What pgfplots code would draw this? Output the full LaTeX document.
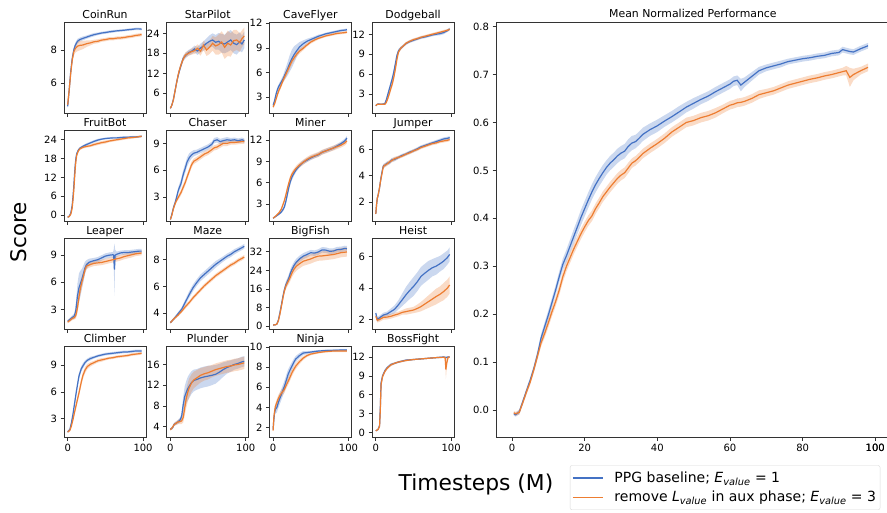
\documentclass[border=0pt]{standalone}
\usepackage{fontspec}
\setmainfont{DejaVu Sans}
\usepackage{pgfplots}
\usepackage{pgfplotstable}
\pgfplotsset{compat=1.18}
\usepgfplotslibrary{fillbetween}
\definecolor{cb}{HTML}{4472C4}
\definecolor{co}{HTML}{ED7D31}

\pgfplotstableread{
x b be o oe
0 4.6 0.1 4.7 0.1
2 5.6 0.15 5.6 0.15
4 6.7 0.15 6.6 0.2
6 7.5 0.15 7.4 0.2
8 8.0 0.15 7.9 0.25
10 8.3 0.15 8.1 0.25
13 8.55 0.15 8.25 0.3
16 8.65 0.12 8.3 0.3
20 8.72 0.12 8.32 0.25
25 8.8 0.1 8.4 0.2
30 8.88 0.1 8.45 0.15
35 8.95 0.1 8.52 0.12
40 9.0 0.08 8.55 0.12
45 9.05 0.08 8.62 0.1
50 9.08 0.08 8.65 0.1
55 9.12 0.08 8.7 0.1
60 9.15 0.08 8.7 0.1
65 9.18 0.07 8.74 0.1
70 9.2 0.07 8.75 0.1
75 9.22 0.07 8.78 0.1
80 9.25 0.07 8.82 0.1
85 9.27 0.07 8.85 0.1
90 9.3 0.07 8.9 0.1
95 9.3 0.07 8.93 0.1
98 9.28 0.07 8.95 0.1
}\tCoin

\pgfplotstableread{
x b be o oe
0 1.5 0.3 1.5 0.3
2 2.5 0.4 2.5 0.4
4 4.2 0.5 4.0 0.5
6 6.5 0.6 6.5 0.6
8 9.0 0.7 8.8 0.7
10 11.0 0.8 11.2 0.8
12 12.8 0.8 13.0 0.8
14 14.3 0.8 14.5 0.8
17 16.5 0.8 16.3 0.8
20 17.3 0.8 17.5 0.8
24 18.2 0.8 18.0 0.8
28 18.6 0.9 18.5 0.9
32 19.3 1.0 18.8 1.0
36 18.7 1.2 19.5 1.2
40 19.6 1.3 18.6 1.3
44 20.2 1.4 20.4 1.4
48 21.0 1.5 19.0 1.8
52 21.6 1.8 19.8 2.0
56 22.0 2.0 21.0 2.2
60 21.3 2.2 20.2 2.6
64 21.6 2.5 20.6 3.0
68 21.0 2.8 21.4 3.2
72 20.8 2.8 19.8 3.5
76 21.4 3.0 21.0 3.8
80 22.0 3.0 20.5 3.5
84 21.0 3.0 21.8 3.2
88 20.6 3.0 22.0 3.0
92 21.5 2.8 21.2 2.8
95 20.8 2.5 22.4 2.5
98 22.0 2.5 23.2 2.5
}\tStar

\pgfplotstableread{
x b be o oe
0 2.0 0.15 1.8 0.15
2 2.6 0.2 2.2 0.2
4 3.4 0.25 2.8 0.25
6 4.0 0.3 3.4 0.3
8 4.4 0.3 3.9 0.3
10 4.7 0.35 4.3 0.3
13 5.2 0.4 5.0 0.3
16 5.8 0.6 5.6 0.35
19 6.4 0.8 6.2 0.4
22 7.1 1.0 6.8 0.4
25 7.7 1.1 7.4 0.4
28 8.2 1.0 7.8 0.35
31 8.6 0.8 8.2 0.3
35 9.1 0.6 8.6 0.3
40 9.5 0.4 8.95 0.25
45 9.8 0.3 9.35 0.2
50 10.0 0.25 9.7 0.2
55 10.2 0.2 9.95 0.2
60 10.4 0.2 10.15 0.15
65 10.55 0.15 10.3 0.15
70 10.7 0.15 10.45 0.15
75 10.8 0.15 10.55 0.15
80 10.9 0.15 10.65 0.15
85 11.0 0.15 10.75 0.15
90 11.1 0.15 10.8 0.15
95 11.15 0.15 10.85 0.15
98 11.2 0.15 10.9 0.15
}\tCave

\pgfplotstableread{
x b be o oe
0 1.3 0.1 1.3 0.1
2 1.5 0.1 1.5 0.1
4 1.55 0.1 1.5 0.1
6 1.5 0.1 1.5 0.1
8 1.5 0.1 1.5 0.1
10 1.55 0.1 1.5 0.1
12 1.6 0.15 1.5 0.1
14 2.2 0.2 1.8 0.2
16 3.0 0.3 2.4 0.3
18 3.8 0.35 3.1 0.35
20 4.6 0.4 3.9 0.4
22 5.4 0.4 4.6 0.45
24 6.4 0.4 5.6 0.5
26 7.6 0.4 6.8 0.5
28 8.8 0.35 8.2 0.4
30 9.5 0.3 9.3 0.3
33 9.9 0.25 9.9 0.25
36 10.2 0.2 10.2 0.2
40 10.6 0.2 10.65 0.2
45 10.9 0.2 10.95 0.2
50 11.1 0.2 11.2 0.2
55 11.3 0.2 11.35 0.2
60 11.5 0.2 11.55 0.2
65 11.6 0.2 11.7 0.2
70 11.75 0.2 11.85 0.2
75 11.9 0.2 12.0 0.2
80 12.0 0.2 12.15 0.2
85 12.1 0.25 12.3 0.2
90 12.25 0.25 12.45 0.2
95 12.55 0.2 12.6 0.2
98 12.8 0.2 12.75 0.2
}\tDodge

\pgfplotstableread{
x b be o oe
0 -0.6 0.2 -0.6 0.2
2 -0.3 0.2 -0.4 0.2
4 0.6 0.3 0.3 0.3
5 1.8 0.4 1.2 0.4
6 3.2 0.5 2.4 0.5
7 5.8 0.6 4.8 0.6
8 8.8 0.7 7.6 0.7
9 12.6 0.7 11.2 0.7
10 16.0 0.6 14.8 0.7
11 18.2 0.5 17.4 0.6
12 19.5 0.5 19.0 0.5
14 20.6 0.4 20.3 0.4
16 21.2 0.4 21.0 0.4
20 21.8 0.4 21.5 0.4
25 22.4 0.4 21.8 0.4
30 22.9 0.4 22.0 0.4
35 23.4 0.4 22.4 0.5
40 23.8 0.4 22.7 0.5
45 24.1 0.3 23.0 0.5
50 24.3 0.3 23.2 0.5
55 24.4 0.3 23.5 0.4
60 24.5 0.3 23.7 0.4
65 24.5 0.3 23.9 0.4
70 24.6 0.3 24.1 0.4
75 24.7 0.3 24.3 0.4
80 24.7 0.3 24.5 0.4
85 24.8 0.3 24.6 0.4
90 24.8 0.3 24.7 0.3
95 24.9 0.3 24.9 0.3
98 25.0 0.3 25.0 0.3
}\tFruit

\pgfplotstableread{
x b be o oe
0 0.5 0.1 0.5 0.1
2 1.1 0.15 1.0 0.15
4 1.8 0.2 1.7 0.2
6 2.3 0.25 2.2 0.2
8 2.9 0.3 2.6 0.2
10 3.6 0.35 2.9 0.25
12 4.1 0.4 3.2 0.3
14 4.5 0.45 3.5 0.3
16 5.2 0.5 3.9 0.35
18 5.8 0.5 4.3 0.35
20 6.3 0.5 4.7 0.35
22 6.9 0.5 5.2 0.35
25 7.4 0.5 5.9 0.35
28 7.7 0.4 6.6 0.35
31 7.9 0.35 7.0 0.3
35 8.0 0.3 7.2 0.3
40 8.2 0.3 7.5 0.3
45 8.4 0.3 7.8 0.3
50 8.6 0.3 8.0 0.3
55 8.9 0.3 8.3 0.3
58 9.3 0.3 8.5 0.3
62 9.4 0.3 8.6 0.3
66 9.2 0.3 8.8 0.3
70 9.3 0.3 9.0 0.3
75 9.4 0.3 9.0 0.3
80 9.35 0.25 9.1 0.25
85 9.4 0.25 9.1 0.25
90 9.3 0.25 9.15 0.25
95 9.4 0.25 9.2 0.25
98 9.3 0.25 9.2 0.25
}\tChaser

\pgfplotstableread{
x b be o oe
0 1.0 0.1 1.0 0.1
4 1.3 0.1 1.35 0.1
8 1.6 0.15 1.8 0.15
11 1.9 0.2 2.3 0.2
13 2.2 0.25 2.9 0.25
15 2.6 0.3 3.5 0.3
17 3.4 0.35 4.3 0.35
19 4.4 0.4 5.2 0.4
21 5.4 0.4 6.0 0.4
23 6.2 0.4 6.7 0.4
25 6.8 0.4 7.2 0.4
28 7.4 0.35 7.7 0.35
31 7.9 0.3 8.1 0.35
35 8.4 0.3 8.5 0.35
40 8.9 0.3 8.9 0.35
45 9.2 0.3 9.3 0.35
50 9.5 0.3 9.6 0.35
55 9.75 0.3 9.8 0.35
60 9.95 0.3 10.0 0.35
65 10.3 0.3 10.3 0.35
70 10.5 0.3 10.5 0.35
75 10.7 0.3 10.7 0.35
80 10.9 0.3 10.9 0.35
85 11.2 0.3 11.1 0.35
90 11.5 0.3 11.3 0.35
95 11.9 0.3 11.6 0.35
98 12.3 0.3 11.9 0.35
}\tMiner

\pgfplotstableread{
x b be o oe
0 1.1 0.1 1.1 0.1
1 1.8 0.15 1.8 0.15
2 2.3 0.15 2.3 0.15
3 2.5 0.15 2.5 0.15
4 2.8 0.15 2.8 0.15
5 3.1 0.15 3.1 0.15
6 3.5 0.15 3.5 0.15
7 3.9 0.15 3.8 0.15
8 4.2 0.15 4.1 0.15
9 4.5 0.15 4.4 0.15
10 4.75 0.15 4.7 0.15
12 4.8 0.15 4.8 0.15
15 4.95 0.15 4.9 0.15
18 5.0 0.15 5.05 0.15
21 5.2 0.15 5.15 0.15
25 5.25 0.15 5.3 0.15
30 5.4 0.12 5.4 0.12
35 5.55 0.12 5.5 0.12
40 5.65 0.12 5.65 0.12
45 5.8 0.12 5.75 0.12
50 5.9 0.12 5.9 0.12
55 6.05 0.12 6.0 0.12
60 6.2 0.12 6.15 0.12
65 6.3 0.12 6.25 0.12
70 6.4 0.12 6.35 0.12
75 6.5 0.12 6.45 0.12
80 6.6 0.12 6.5 0.12
85 6.7 0.12 6.6 0.12
90 6.8 0.12 6.65 0.12
95 6.85 0.12 6.7 0.12
98 6.9 0.12 6.75 0.12
}\tJumper

\pgfplotstableread{
x b be o oe
0 1.7 0.15 1.6 0.15
3 1.9 0.2 1.8 0.2
6 2.1 0.25 2.0 0.2
9 2.3 0.3 2.1 0.2
11 3.0 0.8 2.4 0.4
13 4.5 1.4 3.2 0.6
15 5.4 1.6 4.4 0.7
17 5.9 1.4 5.4 0.7
19 6.4 1.1 6.1 0.6
21 7.0 0.9 6.7 0.5
23 7.6 0.7 7.4 0.4
25 7.95 0.5 7.8 0.35
28 8.2 0.4 7.9 0.3
31 8.3 0.35 8.0 0.3
35 8.4 0.3 8.1 0.3
40 8.5 0.3 8.15 0.3
45 8.7 0.3 8.2 0.3
50 8.9 0.3 8.3 0.3
55 9.0 0.3 8.4 0.3
60 9.05 0.3 8.5 0.3
61 9.0 0.6 8.5 0.3
62 7.4 2.9 8.55 0.3
63 9.0 0.6 8.55 0.3
65 9.1 0.3 8.6 0.3
70 9.25 0.25 8.7 0.3
75 9.3 0.25 8.85 0.3
80 9.3 0.25 8.95 0.3
85 9.35 0.25 9.05 0.3
90 9.4 0.25 9.15 0.25
95 9.45 0.25 9.2 0.25
98 9.45 0.25 9.25 0.25
}\tLeaper

\pgfplotstableread{
x b be o oe
0 3.3 0.08 3.3 0.08
5 3.6 0.1 3.6 0.1
10 3.95 0.12 3.85 0.1
15 4.3 0.15 4.15 0.12
20 4.85 0.2 4.5 0.15
25 5.4 0.25 4.8 0.15
30 5.9 0.25 5.15 0.15
35 6.3 0.25 5.45 0.15
40 6.65 0.25 5.75 0.15
45 6.9 0.25 6.05 0.15
50 7.15 0.25 6.3 0.15
55 7.4 0.25 6.55 0.15
60 7.65 0.25 6.8 0.15
65 7.85 0.22 7.0 0.15
70 8.05 0.2 7.2 0.15
75 8.25 0.2 7.4 0.15
80 8.4 0.2 7.6 0.15
85 8.6 0.2 7.75 0.15
90 8.75 0.18 7.95 0.15
95 8.9 0.18 8.1 0.15
98 9.0 0.18 8.2 0.15
}\tMaze

\pgfplotstableread{
x b be o oe
0 0.4 0.2 0.4 0.2
3 0.5 0.2 0.5 0.2
5 0.8 0.3 0.8 0.3
7 2.5 0.5 2.2 0.5
9 5.6 0.8 5.0 0.8
11 9.0 1.0 8.4 1.0
13 12.6 1.2 12.0 1.2
15 15.6 1.3 15.2 1.3
17 17.8 1.4 17.2 1.4
19 19.2 1.5 18.6 1.5
21 20.8 1.6 19.8 1.6
23 22.8 1.7 21.2 1.7
25 24.3 1.7 22.8 1.8
28 26.2 1.6 24.6 1.9
31 27.6 1.5 25.8 2.0
35 28.9 1.4 26.8 2.0
40 30.1 1.3 27.9 2.0
45 30.8 1.3 28.4 2.0
50 31.6 1.2 28.9 2.0
55 31.4 1.2 29.6 2.0
60 31.9 1.2 30.1 2.0
65 32.8 1.2 30.2 2.0
70 32.7 1.2 30.4 2.0
75 32.2 1.2 30.6 2.0
80 32.3 1.2 30.8 2.0
85 32.9 1.2 31.2 2.0
90 33.0 1.2 31.6 2.0
95 33.4 1.2 31.8 2.0
98 33.3 1.2 31.9 2.0
}\tBigFish

\pgfplotstableread{
x b be o oe
0 2.4 0.15 2.2 0.15
2 2.0 0.15 1.95 0.15
5 2.1 0.15 2.0 0.15
10 2.28 0.15 2.13 0.15
15 2.35 0.15 2.15 0.15
20 2.5 0.2 2.2 0.15
25 2.65 0.25 2.28 0.15
30 2.93 0.3 2.35 0.15
35 3.25 0.4 2.45 0.15
40 3.57 0.5 2.5 0.2
45 3.85 0.55 2.55 0.2
50 4.1 0.6 2.6 0.2
55 4.4 0.6 2.7 0.25
60 4.75 0.6 2.82 0.3
65 4.95 0.6 2.98 0.35
70 5.14 0.6 3.14 0.4
75 5.3 0.55 3.3 0.45
80 5.4 0.55 3.46 0.5
85 5.55 0.5 3.6 0.5
90 5.72 0.5 3.78 0.55
95 5.95 0.45 4.0 0.55
98 6.15 0.45 4.2 0.55
}\tHeist

\pgfplotstableread{
x b be o oe
0 1.5 0.1 1.5 0.1
3 1.8 0.15 1.7 0.15
5 2.55 0.2 2.2 0.2
7 3.5 0.3 2.9 0.25
10 5.2 0.35 4.05 0.3
12 6.3 0.4 4.8 0.35
15 7.8 0.35 5.9 0.4
18 8.6 0.3 7.1 0.4
20 8.9 0.3 7.8 0.4
23 9.3 0.25 8.45 0.35
26 9.55 0.2 8.85 0.3
30 9.75 0.2 9.1 0.25
35 9.9 0.15 9.3 0.2
40 10.05 0.15 9.5 0.2
45 10.15 0.15 9.6 0.2
50 10.25 0.15 9.7 0.15
55 10.3 0.15 9.8 0.15
60 10.35 0.15 9.85 0.15
65 10.4 0.15 9.95 0.15
70 10.45 0.15 10.0 0.15
75 10.5 0.15 10.05 0.15
80 10.5 0.15 10.1 0.15
85 10.55 0.15 10.2 0.15
90 10.6 0.15 10.25 0.15
95 10.6 0.15 10.3 0.15
98 10.6 0.15 10.35 0.15
}\tClimber

\pgfplotstableread{
x b be o oe
0 3.5 0.2 3.4 0.2
3 3.8 0.3 3.9 0.3
5 4.45 0.3 4.4 0.3
8 4.7 0.35 4.7 0.35
10 4.9 0.4 4.9 0.4
13 5.3 0.5 5.0 0.5
15 6.05 0.8 5.1 0.6
17 8.2 1.5 5.8 1.0
19 9.8 2.0 7.6 1.5
21 10.6 2.2 9.4 1.8
23 11.3 2.3 10.6 1.8
25 11.8 2.3 11.5 1.8
28 12.5 2.2 12.4 1.7
31 12.9 2.1 13.0 1.6
35 13.1 2.0 13.4 1.5
40 13.4 2.0 13.9 1.4
45 13.6 2.0 14.2 1.3
50 13.75 2.0 14.4 1.3
55 13.9 1.9 14.7 1.2
60 14.1 1.8 15.0 1.2
65 14.5 1.6 15.2 1.2
70 15.0 1.4 15.4 1.2
75 15.4 1.2 15.6 1.2
80 15.7 1.1 15.7 1.2
85 16.0 1.0 15.9 1.2
90 16.2 1.0 16.0 1.2
95 16.5 1.0 16.2 1.2
98 16.6 1.0 16.3 1.2
}\tPlunder

\pgfplotstableread{
x b be o oe
0 1.8 0.1 1.7 0.1
1 2.8 0.2 3.0 0.2
2 3.5 0.3 3.6 0.3
3 3.8 0.4 4.1 0.3
5 4.0 0.5 4.5 0.35
7 4.5 0.55 4.9 0.35
10 5.1 0.55 5.3 0.35
13 5.7 0.55 5.6 0.35
15 6.1 0.55 5.8 0.35
18 6.8 0.55 6.3 0.35
20 7.3 0.5 6.6 0.35
23 7.8 0.45 7.1 0.35
25 8.1 0.4 7.45 0.35
28 8.55 0.35 7.85 0.3
30 8.8 0.3 8.1 0.3
35 9.15 0.25 8.55 0.25
40 9.4 0.2 8.9 0.2
45 9.45 0.15 9.15 0.15
50 9.5 0.12 9.3 0.12
60 9.6 0.1 9.45 0.1
70 9.65 0.1 9.55 0.1
80 9.67 0.1 9.6 0.1
90 9.7 0.1 9.6 0.1
98 9.7 0.1 9.6 0.1
}\tNinja

\pgfplotstableread{
x b be o oe
0 0.27 0.05 0.27 0.05
3 0.5 0.1 0.5 0.1
5 1.1 0.2 1.0 0.2
6 4.0 0.4 3.6 0.4
7 7.9 0.4 7.6 0.4
9 9.0 0.3 8.9 0.3
12 9.8 0.25 9.7 0.25
15 10.3 0.2 10.2 0.2
20 10.8 0.2 10.75 0.2
25 11.0 0.15 11.0 0.15
30 11.2 0.15 11.2 0.15
40 11.5 0.15 11.45 0.15
50 11.6 0.1 11.6 0.1
60 11.7 0.1 11.7 0.1
70 11.8 0.1 11.8 0.1
80 11.9 0.1 11.9 0.1
90 12.0 0.1 11.95 0.1
92 11.95 0.1 11.9 0.3
93 11.9 0.1 10.0 1.5
94 11.95 0.1 11.0 1.0
96 12.0 0.1 11.95 0.2
98 12.0 0.1 12.0 0.1
}\tBoss

\pgfplotstableread{
x b be o oe
0.5 -0.008 0.004 -0.006 0.004
1 -0.010 0.004 -0.008 0.004
2 -0.004 0.005 -0.005 0.005
3 0.018 0.005 0.016 0.005
4 0.040 0.006 0.038 0.006
5 0.062 0.006 0.058 0.006
6 0.086 0.007 0.084 0.007
7 0.115 0.008 0.112 0.008
8 0.150 0.008 0.140 0.008
9 0.174 0.009 0.160 0.009
10 0.198 0.010 0.182 0.010
11 0.224 0.010 0.205 0.010
12 0.250 0.010 0.226 0.010
13 0.278 0.011 0.250 0.011
14 0.304 0.012 0.278 0.011
15 0.322 0.013 0.300 0.011
16 0.342 0.014 0.318 0.011
17 0.362 0.015 0.336 0.011
18 0.382 0.015 0.352 0.011
19 0.402 0.016 0.368 0.011
20 0.420 0.016 0.382 0.011
21 0.438 0.016 0.395 0.011
22 0.455 0.016 0.405 0.011
23 0.470 0.016 0.420 0.011
24 0.483 0.016 0.432 0.011
25 0.495 0.016 0.445 0.011
26 0.506 0.015 0.455 0.011
27 0.515 0.015 0.465 0.011
28 0.522 0.015 0.474 0.011
29 0.530 0.015 0.483 0.011
30 0.536 0.015 0.490 0.011
31 0.540 0.015 0.495 0.011
32 0.550 0.015 0.505 0.011
33 0.557 0.015 0.515 0.010
34 0.560 0.014 0.520 0.010
35 0.567 0.014 0.527 0.010
36 0.575 0.014 0.535 0.010
38 0.585 0.013 0.546 0.010
40 0.593 0.013 0.556 0.010
42 0.603 0.012 0.567 0.010
44 0.612 0.012 0.580 0.010
46 0.622 0.012 0.590 0.010
48 0.632 0.011 0.600 0.010
50 0.640 0.011 0.604 0.010
52 0.648 0.010 0.610 0.010
54 0.655 0.010 0.614 0.010
56 0.664 0.010 0.620 0.010
58 0.672 0.010 0.628 0.009
60 0.680 0.010 0.636 0.009
61 0.686 0.010 0.638 0.009
62 0.688 0.010 0.641 0.009
63 0.678 0.013 0.642 0.009
64 0.684 0.010 0.644 0.009
66 0.696 0.009 0.650 0.009
68 0.708 0.008 0.658 0.009
70 0.714 0.007 0.662 0.008
72 0.718 0.007 0.666 0.008
74 0.722 0.007 0.672 0.008
76 0.727 0.006 0.678 0.008
78 0.730 0.006 0.682 0.008
80 0.733 0.006 0.686 0.008
82 0.735 0.006 0.690 0.008
84 0.738 0.006 0.693 0.008
86 0.740 0.006 0.697 0.008
88 0.744 0.006 0.700 0.008
90 0.746 0.006 0.704 0.008
91 0.752 0.006 0.706 0.008
92 0.750 0.006 0.708 0.010
93 0.748 0.006 0.694 0.020
94 0.747 0.006 0.700 0.012
96 0.754 0.006 0.708 0.008
98 0.760 0.006 0.715 0.008
}\tMean

\pgfplotsset{
 base/.style={scale only axis, tick align=outside, xtick pos=bottom, ytick pos=left,
   major tick length=3.5pt, tick style={black!80, line width=0.6pt},
   axis line style={black!80, line width=0.8pt},
   ticklabel style={font=\fontsize{10}{12}\selectfont},
   /pgf/number format/assume math mode=true, scaled ticks=false,
   title style={font=\fontsize{10.9}{13}\selectfont, at={(0.5,1)}, anchor=base, yshift=-2.2pt}},
 small/.style={base, width=82pt, height=91pt, xmin=-4.9, xmax=103.9, xtick={0,100}},
}

\newcommand{\smallplot}[8]{%
\begin{axis}[small, at={(#1pt,#2pt)}, anchor=south west, title={#3}, ymin=#4, ymax=#5, ytick={#6}, #8]
\addplot[name path=bu, draw=none, forget plot] table[x=x, y expr=\thisrow{b}+\thisrow{be}] {#7};
\addplot[name path=bl, draw=none, forget plot] table[x=x, y expr=\thisrow{b}-\thisrow{be}] {#7};
\addplot[fill=cb, fill opacity=0.28, draw=none, forget plot] fill between[of=bu and bl];
\addplot[cb, line width=1.2pt, forget plot] table[x=x, y=b] {#7};
\addplot[name path=ou, draw=none, forget plot] table[x=x, y expr=\thisrow{o}+\thisrow{oe}] {#7};
\addplot[name path=ol, draw=none, forget plot] table[x=x, y expr=\thisrow{o}-\thisrow{oe}] {#7};
\addplot[fill=co, fill opacity=0.28, draw=none, forget plot] fill between[of=ou and ol];
\addplot[co, line width=1.2pt, forget plot] table[x=x, y=o] {#7};
\end{axis}}

\begin{document}
\begin{tikzpicture}

\smallplot{64}{398.7}{CoinRun}{4.18}{9.7}{6,8}{\tCoin}{xticklabels={}}
\smallplot{166.7}{398.7}{StarPilot}{0}{27.3}{6,12,18,24}{\tStar}{xticklabels={}}
\smallplot{269.4}{398.7}{CaveFlyer}{1.05}{12.1}{3,6,9,12}{\tCave}{xticklabels={}}
\smallplot{372.1}{398.7}{Dodgeball}{0.15}{13.8}{3,6,9,12}{\tDodge}{xticklabels={}}

\smallplot{64}{290.7}{FruitBot}{-1.9}{26.9}{0,6,12,18,24}{\tFruit}{xticklabels={}}
\smallplot{166.7}{290.7}{Chaser}{0.3}{10.46}{3,6,9}{\tChaser}{xticklabels={}}
\smallplot{269.4}{290.7}{Miner}{0.57}{13.4}{3,6,9,12}{\tMiner}{xticklabels={}}
\smallplot{372.1}{290.7}{Jumper}{0.54}{7.46}{2,4,6}{\tJumper}{xticklabels={}}

\smallplot{64}{182.7}{Leaper}{0.8}{10.87}{3,6,9}{\tLeaper}{xticklabels={}}
\smallplot{166.7}{182.7}{Maze}{2.8}{9.6}{4,6,8}{\tMaze}{xticklabels={}}
\smallplot{269.4}{182.7}{BigFish}{-1.45}{37.8}{0,8,16,24,32}{\tBigFish}{xticklabels={}}
\smallplot{372.1}{182.7}{Heist}{1.37}{7.18}{2,4,6}{\tHeist}{xticklabels={}}

\smallplot{64}{74.7}{Climber}{0.9}{11.13}{3,6,9}{\tClimber}{}
\smallplot{166.7}{74.7}{Plunder}{1.94}{19.5}{4,8,12,16}{\tPlunder}{}
\smallplot{269.4}{74.7}{Ninja}{1.04}{10.07}{2,4,6,8,10}{\tNinja}{}
\smallplot{372.1}{74.7}{BossFight}{-0.75}{13.7}{0,3,6,9,12}{\tBoss}{}

\node[rotate=90, anchor=base, font=\fontsize{21.5}{24}\selectfont] at (27pt,280pt) {Score};
\node[anchor=base, font=\fontsize{21.8}{24}\selectfont] at (476pt,22pt) {Timesteps (M)};

\begin{axis}[base, at={(496pt,74.7pt)}, anchor=south west, width=393.8pt, height=415pt,
  xmin=-4.4, xmax=104, ymin=-0.057, ymax=0.809, hide obscured x ticks=false,
  xtick={0,20,40,60,80,100},
  ytick={0,0.1,0.2,0.3,0.4,0.5,0.6,0.7,0.8},
  yticklabel style={/pgf/number format/.cd, fixed, fixed zerofill, precision=1},
  title={Mean Normalized Performance}, title style={yshift=0.8pt},
  legend style={at={(0.1876,-0.0675)}, anchor=north west, draw=black!15, rounded corners=2pt,
    font=\fontsize{14}{17}\selectfont, row sep=3pt, inner xsep=2pt, inner ysep=4.5pt},
  legend cell align=left,
  extra description/.code={\node[anchor=north, inner sep=0.3333em, yshift=-3.5pt,
    font=\fontsize{10}{12}\selectfont] at (axis cs:100,-0.057) {100};}]
\addplot[name path=mbu, draw=none, forget plot] table[x=x, y expr=\thisrow{b}+\thisrow{be}] {\tMean};
\addplot[name path=mbl, draw=none, forget plot] table[x=x, y expr=\thisrow{b}-\thisrow{be}] {\tMean};
\addplot[fill=cb, fill opacity=0.28, draw=none, forget plot] fill between[of=mbu and mbl];
\addplot[cb, line width=1.2pt, forget plot] table[x=x, y=b] {\tMean};
\addplot[name path=mou, draw=none, forget plot] table[x=x, y expr=\thisrow{o}+\thisrow{oe}] {\tMean};
\addplot[name path=mol, draw=none, forget plot] table[x=x, y expr=\thisrow{o}-\thisrow{oe}] {\tMean};
\addplot[fill=co, fill opacity=0.28, draw=none, forget plot] fill between[of=mou and mol];
\addplot[co, line width=1.2pt, forget plot] table[x=x, y=o] {\tMean};
\addlegendimage{legend image code/.code={\draw[cb, line width=1.4pt] (0pt,0pt) -- (30pt,0pt);}}
\addlegendentry{\hspace{9pt}PPG baseline; \textit{E}\textsubscript{\textit{value}} = 1}
\addlegendimage{legend image code/.code={\draw[co, line width=1.4pt] (0pt,0pt) -- (30pt,0pt);}}
\addlegendentry{\hspace{9pt}remove \textit{L}\textsubscript{\textit{value}} in aux phase; \textit{E}\textsubscript{\textit{value}} = 3}
\end{axis}

\pgfresetboundingbox
\useasboundingbox (0,0) rectangle (887pt,512pt);
\end{tikzpicture}
\end{document}
